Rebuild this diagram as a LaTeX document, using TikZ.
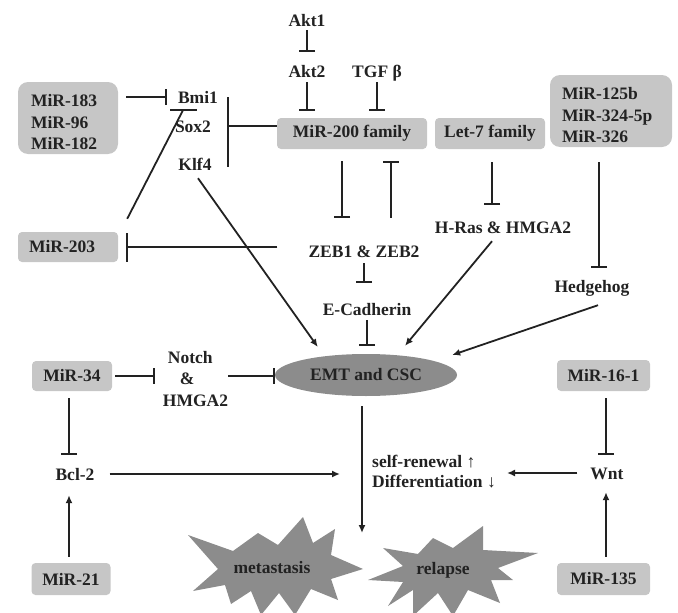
\documentclass[tikz,border=0pt]{standalone}
\usepackage{fontspec}
\setmainfont{Liberation Serif}
\usetikzlibrary{arrows.meta,calc,shapes.geometric}
\definecolor{boxgray}{HTML}{C6C6C6}
\definecolor{darkfill}{HTML}{8C8C8C}
\definecolor{ink}{HTML}{222222}
\newcommand\dfs{\fontsize{17.5}{21.5}\selectfont\bfseries}
\begin{document}
\begin{tikzpicture}[x=1pt,y=-1pt,
  txt/.style={inner sep=0pt, text height=12pt, text depth=0pt, font=\dfs, text=ink},
  mbox/.style={fill=boxgray, rounded corners=4pt, inner sep=0pt, font=\dfs, text=ink},
  conn/.style={line width=1.8pt, draw=ink},
  inh/.style={conn, -{Bar[width=16pt]}},
  act/.style={conn, -{Latex[length=8pt,width=7pt]}},
  starfill/.style={fill=darkfill},
]
\useasboundingbox (0,0) rectangle (678,613);

% starbursts
\fill[starfill, shift={(273,567)}] (-85,-32) -- (-40,-16) -- (-15,-34) -- (5,-22) -- (30,-50) -- (40,-24) -- (62,-38) -- (58,-12) -- (90,2) -- (58,12) -- (65,33) -- (38,22) -- (22,48) -- (6,26) -- (-12,48) -- (-22,24) -- (-42,37) -- (-48,18) -- (-80,24) -- (-55,2) -- cycle;
\fill[starfill, shift={(443,568)}] (-75,12) -- (-40,-2) -- (-60,-20) -- (-25,-14) -- (-10,-30) -- (10,-20) -- (40,-42) -- (40,-18) -- (95,-15) -- (55,0) -- (70,12) -- (48,12) -- (57,35) -- (25,22) -- (10,48) -- (-5,25) -- (-30,48) -- (-30,22) -- (-55,38) -- (-40,14) -- cycle;

% text nodes
\node[txt] (akt1) at (307,21) {Akt1};
\node[txt] (akt2) at (307,71) {Akt2};
\node[txt] (tgf) at (377,71) {TGF β};
\node[txt] (bmi1) at (198,97) {Bmi1};
\node[txt] (sox2) at (193,126) {Sox2};
\node[txt] (klf4) at (195,164) {Klf4};
\node[txt] (zeb) at (364,251) {ZEB1 \& ZEB2};
\node[txt] (ecad) at (367,309) {E-Cadherin};
\node[txt] (hras) at (503,227) {H-Ras \& HMGA2};
\node[txt] (hedge) at (592,286) {Hedgehog};
\node[txt] (bcl) at (75,474) {Bcl-2};
\node[txt] (wnt) at (607,473) {Wnt};
\node[inner sep=0pt, font=\dfs, text=ink, align=left] (notch) at (195.5,379) {\hspace*{5pt}Notch\\\hspace*{17pt}\&\\HMGA2};
\node[inner sep=0pt, font=\dfs, text=ink, align=left, anchor=west] (self) at (372,472) {self-renewal ↑\\[-1.5pt]Differentiation ↓};
\node[txt] (meta) at (272,567) {metastasis};
\node[txt] (relapse) at (443,568) {relapse};

% boxes
\node[mbox, minimum width=150pt, minimum height=31pt] (m200) at (352,133.5) {MiR-200 family};
\node[mbox, minimum width=110pt, minimum height=31pt] (let7) at (490,133.5) {Let-7 family};
\node[mbox, rounded corners=10pt, minimum width=100pt, minimum height=72pt, inner xsep=13pt, text width=74pt, align=left] (m183) at (68,118) {\rule{0pt}{20.8pt}MiR-183\\MiR-96\\MiR-182};
\node[mbox, rounded corners=10pt, minimum width=122pt, minimum height=72pt, inner xsep=12pt, text width=98pt, align=left] (m125) at (611,111) {\rule{0pt}{20.8pt}MiR-125b\\MiR-324-5p\\MiR-326};
\node[mbox, minimum width=100pt, minimum height=30pt, inner xsep=11pt, text width=78pt, align=left] (m203) at (68,247) {MiR-203};
\node[mbox, minimum width=80pt, minimum height=30pt] (m34) at (72,376) {MiR-34};
\node[mbox, minimum width=79pt, minimum height=32pt] (m21) at (71,579) {MiR-21};
\node[mbox, minimum width=93pt, minimum height=31pt] (m161) at (603.5,375.5) {MiR-16-1};
\node[mbox, minimum width=93pt, minimum height=32pt] (m135) at (603.5,579) {MiR-135};
\node[ellipse, fill=darkfill, minimum width=182pt, minimum height=42pt, inner sep=0pt, font=\dfs, text=ink] (emt) at (366,375) {EMT and CSC};

% connectors
\draw[inh, shorten <=3pt, shorten >=13pt] (akt1.south) -- (akt2.north);
\draw[inh, shorten <=5pt, shorten >=7pt] (akt2.south) -- (akt2.south |- m200.north);
\draw[inh, shorten <=5pt, shorten >=7pt] (tgf.south) -- (tgf.south |- m200.north);
\draw[inh, shorten <=8pt, shorten >=11pt] (m183.east |- bmi1) -- (bmi1.west);
\coordinate (sbar) at (228,126);
\draw[conn] (m200.west |- sox2) -- (sbar);
\draw[conn] ($(sbar)+(0,-29)$) -- ($(sbar)+(0,41)$);
\coordinate (m203o) at ($(m203.north east)+(9,-13)$);
\coordinate (bmib) at ($(bmi1.south)+(-15,7)$);
\draw[conn] (m203o) -- (bmib);
\draw[conn] ($(bmib)+(-13,0)$) -- ($(bmib)+(14,0)$);
\draw[conn, -{Bar[width=29pt]}, shorten >=8pt] ($(zeb.west)+(-31,-4)$) -- (m203.east);
\draw[inh, shorten <=12pt, shorten >=27pt] ($(m200.south)+(-10,0)$) -- ($(zeb.north)+(-22,0)$);
\draw[inh, shorten <=27pt, shorten >=12pt] ($(zeb.north)+(27,0)$) -- ($(m200.south)+(39,0)$);
\draw[inh, shorten <=6pt, shorten >=20pt] (zeb.south) -- (zeb.south |- ecad.north);
\draw[inh, shorten <=5pt, shorten >=8pt] (ecad.south) -- (ecad.south |- emt.north);
\draw[act] ($(klf4.south)+(3,8)$) -- ($(emt.west)+(43,-28)$);
\draw[act] ($(hras.south)+(-11,8)$) -- ($(emt.north)+(39,-8)$);
\draw[act] ($(hedge.south)+(6,13)$) -- ($(emt.east)+(-5,-20)$);
\draw[inh, shorten <=13pt, shorten >=16pt] ($(let7.south)+(2,0)$) -- ($(hras.north)+(-11,0)$);
\draw[inh, shorten <=15pt, shorten >=12pt] ($(m125.south)+(-12,0)$) -- ($(hedge.north)+(7,0)$);
\draw[inh, shorten <=3pt, shorten >=8pt] (m34.east) -- (m34.east -| notch.west);
\draw[inh] (notch.east |- m34.east) -- (emt.west |- m34.east);
\draw[inh, shorten <=7pt, shorten >=13pt] ($(m34.south)+(-3,0)$) -- ($(bcl.north)+(-6,0)$);
\draw[act, shorten <=6pt, shorten >=15pt] ($(m21.north)+(-2,0)$) -- ($(bcl.south)+(-6,0)$);
\draw[act, shorten <=15pt, shorten >=32pt] (bcl.east) -- (bcl.east -| self.west);
\draw[act, shorten <=13pt, shorten >=11pt] (wnt.west) -- (wnt.west -| self.east);
\draw[inh, shorten <=7pt, shorten >=12pt] ($(m161.south)+(2.5,0)$) -- ($(wnt.north)+(-1,0)$);
\draw[act, shorten <=6pt, shorten >=13pt] ($(m135.north)+(2.5,0)$) -- ($(wnt.south)+(-1,0)$);
\coordinate (outc) at (362,533);
\draw[act, shorten <=10pt] ($(emt.south)+(-4,0)$) -- (outc);
\end{tikzpicture}
\end{document}
